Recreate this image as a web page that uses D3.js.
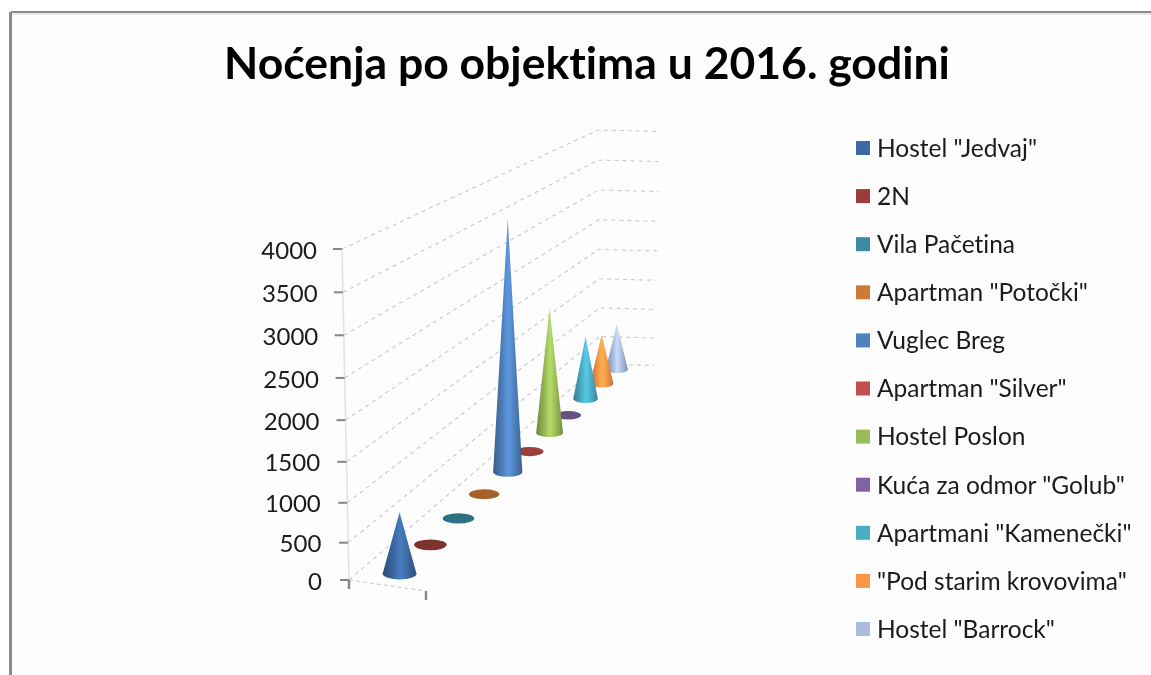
<!DOCTYPE html>
<html>
<head>
<meta charset="utf-8">
<script src="https://cdn.jsdelivr.net/npm/d3@7"></script>
<style>
html, body { margin: 0; padding: 0; background: #fff; }
svg { display: block; }
text { font-family: Lato, "Open Sans", sans-serif; fill: #1a1a1a; font-variant-ligatures: none; }
</style>
</head>
<body>
<svg id="chart" width="1151" height="675"></svg>
<script>
var chartTitle = "Noćenja po objektima u 2016. godini";
var objects = ['Hostel "Jedvaj"', "2N", "Vila Pačetina", 'Apartman "Potočki"', "Vuglec Breg",
    'Apartman "Silver"', "Hostel Poslon", 'Kuća za odmor "Golub"', 'Apartmani "Kamenečki"',
    '"Pod starim krovovima"', 'Hostel "Barrock"'];
var nights = [820, 30, 25, 35, 3600, 15, 1940, 10, 1060, 870, 825];
var colors = ["#3c6aa2", "#9c3c3a", "#3a8ba3", "#cc7a35", "#4f81bd", "#c0504d",
    "#9bbb59", "#8064a2", "#4bacc6", "#f79646", "#aabbdd"];
var yTicks = [0, 500, 1000, 1500, 2000, 2500, 3000, 3500, 4000];

var svg = d3.select("#chart");
var defs = svg.append("defs");

defs.append("filter").attr("id", "soft")
    .attr("x", "-2%").attr("y", "-2%").attr("width", "104%").attr("height", "104%")
    .append("feGaussianBlur").attr("stdDeviation", 0.55);

// frame
var frame = svg.append("g");
frame.append("rect").attr("x", 11).attr("y", 12).attr("width", 1140).attr("height", 663).attr("fill", "#fdfdfd");
frame.append("rect").attr("x", 11).attr("y", 13).attr("width", 1140).attr("height", 2).attr("fill", "#e8e8e8");
frame.append("rect").attr("x", 11).attr("y", 11).attr("width", 1140).attr("height", 2).attr("fill", "#8a8a8a");
frame.append("rect").attr("x", 9).attr("y", 12).attr("width", 3).attr("height", 663).attr("fill", "#8a8a8a");

var g = svg.append("g").attr("filter", "url(#soft)");

g.append("text")
    .attr("x", 587).attr("y", 79)
    .attr("text-anchor", "middle")
    .attr("font-size", 44.5).attr("font-weight", 700)
    .style("fill", "#000")
    .text(chartTitle);

// the 3d box: value goes up the walls, depth goes from front to back
var frontY = d3.scalePow().exponent(1.05).domain([0, 4000]).range([580, 249]);
var frontX = d3.scaleLinear().domain([0, 4000]).range([349, 342]);
var backY = d3.scalePow().exponent(1.03).domain([0, 4000]).range([364, 130]);
var backX = d3.scaleLinear().domain([0, 4000]).range([600, 598]);
var endX = d3.scaleLinear().domain([0, 4000]).range([654, 660]);
var labelX = d3.scaleLinear().domain([0, 4000]).range([-27, -25]);

var floorZ = 1.55;
var depthZ = d3.scaleLinear().domain([0, 1]).range([1, 1.418]);
var baseX = d3.scaleLinear().domain([0, 1]).range([383, 624]);
var baseY = d3.scaleLinear().domain([0, 1]).range([589.4, 362.7]);
var acrossX = d3.scaleLinear().domain([0, 1]).range([0, 77]);
var acrossY = d3.scaleLinear().domain([0, 1]).range([0, 11]);
var radius = d3.scaleLinear().domain([0, 1]).range([17.2, 10.8]);
var depth = d3.scaleBand().domain(d3.range(objects.length)).range([0, 1]);

function along(d) {
    // perspective correct fraction of the floor centre line
    return floorZ * d / (1 - d + floorZ * d);
}

// grid
var grid = g.append("g").attr("fill", "none").attr("stroke", "#c9c9c9").attr("stroke-width", 1.1);
var gridLine = d3.line();
yTicks.forEach(function(v) {
    grid.append("path")
        .attr("stroke-dasharray", "4 4")
        .attr("d", gridLine([[frontX(v), frontY(v)], [backX(v), backY(v)], [endX(v), backY(v) + 1.5]]));
});
grid.append("path")
    .attr("stroke", "#e2e2e2")
    .attr("stroke-width", 1.6)
    .attr("d", gridLine([[frontX(0), frontY(0)], [frontX(4000), frontY(4000)]]));
grid.append("path")
    .attr("stroke-dasharray", "4 3")
    .attr("d", gridLine([[frontX(0), frontY(0)], [frontX(0) + acrossX(1), frontY(0) + acrossY(1)]]));

// y axis, ticks shifted on to the leaning wall edge
var yAxis = g.append("g")
    .call(d3.axisLeft(frontY).tickValues(yTicks).tickFormat(d3.format("d")).tickSize(9));
yAxis.select(".domain").remove();
yAxis.selectAll(".tick")
    .attr("transform", function(d) { return "translate(" + frontX(d) + "," + frontY(d) + ")"; });
yAxis.selectAll(".tick line").attr("stroke", "#868686").attr("stroke-width", 2);
yAxis.selectAll(".tick text")
    .attr("x", function(d) { return labelX(d); })
    .attr("font-size", 24).attr("font-family", "Lato").attr("dy", "0.4em");

// x ticks at the two ends of the front edge
var xTick = g.append("g").attr("stroke", "#868686").attr("stroke-width", 2.4);
[0, 1].forEach(function(a) {
    var x = frontX(0) + acrossX(a), y = frontY(0) + acrossY(a);
    xTick.append("line").attr("x1", x).attr("x2", x).attr("y1", y).attr("y2", y + 9);
});

// cones, back to front
var cones = g.append("g");
d3.range(objects.length).reverse().forEach(function(i) {
    var d = depth(i) + depth.bandwidth() / 2;
    var z = depthZ(d);
    var t = along(d);
    var cx = baseX(t);
    var cy = baseY(t);
    var r = radius(d);
    var ry = r * 0.33;
    var h = (frontY(0) - frontY(nights[i])) / z;
    var c = d3.color(colors[i]);

    var grad = defs.append("linearGradient").attr("id", "cone" + i);
    grad.append("stop").attr("offset", "0%").attr("stop-color", c.darker(0.9));
    grad.append("stop").attr("offset", "28%").attr("stop-color", c.darker(0.15));
    grad.append("stop").attr("offset", "52%").attr("stop-color", c.brighter(0.45));
    grad.append("stop").attr("offset", "75%").attr("stop-color", c.darker(0.05));
    grad.append("stop").attr("offset", "100%").attr("stop-color", c.darker(0.8));

    var fill = h < 6 ? c.darker(0.6) : "url(#cone" + i + ")";
    cones.append("ellipse")
        .attr("cx", cx).attr("cy", cy)
        .attr("rx", r).attr("ry", ry)
        .attr("fill", fill);
    if (h >= 6) {
        cones.append("path")
            .attr("fill", fill)
            .attr("d", d3.line()([[cx, cy - h], [cx - r, cy], [cx + r, cy]]) + "Z");
    }
});

// legend
var legendY = d3.scalePoint().domain(d3.range(objects.length)).range([148, 629]);
var legend = g.append("g").selectAll("g").data(objects).enter().append("g")
    .attr("transform", function(d, i) { return "translate(856," + legendY(i) + ")"; });
legend.append("rect")
    .attr("x", 0).attr("y", -7).attr("width", 14).attr("height", 14)
    .attr("fill", function(d, i) { return colors[i]; });
legend.append("text")
    .attr("x", 21).attr("dy", "0.36em")
    .attr("font-size", 24.5)
    .text(function(d) { return d; });
</script>
</body>
</html>
